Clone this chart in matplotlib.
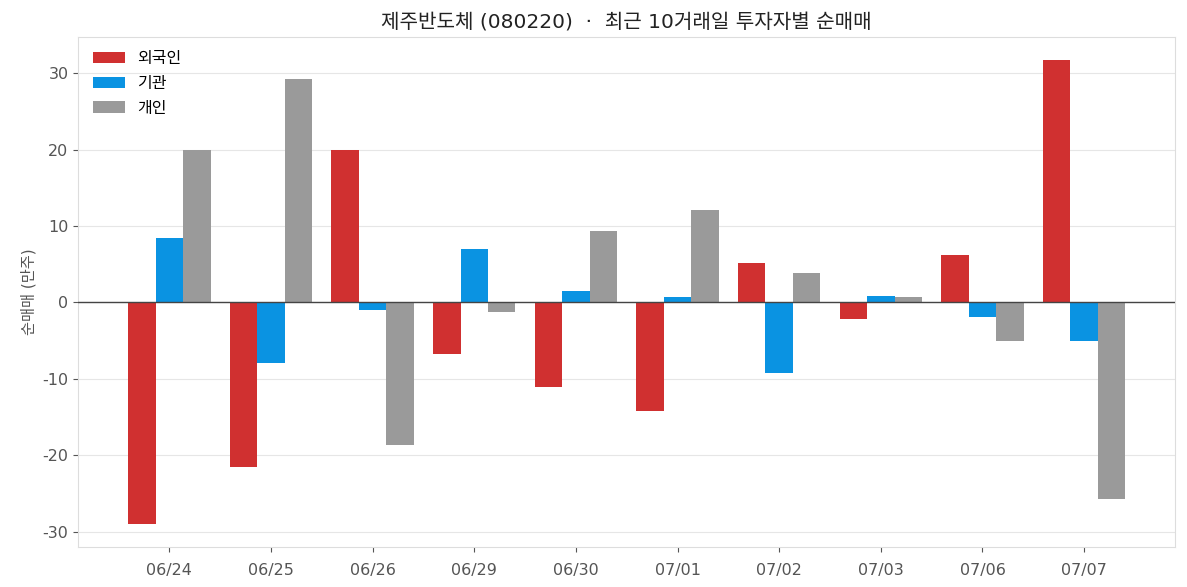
import matplotlib.pyplot as plt
import numpy as np

plt.rcParams['font.family'] = ['DejaVu Sans', 'Noto Sans CJK KR']
plt.rcParams['axes.unicode_minus'] = False

dates = ['06/24', '06/25', '06/26', '06/29', '06/30', '07/01', '07/02', '07/03', '07/06', '07/07']
foreign = [-29.0, -21.5, 19.9, -6.7, -11.1, -14.2, 5.1, -2.2, 6.2, 31.7]
institution = [8.4, -8.0, -1.0, 7.0, 1.5, 0.7, -9.3, 0.8, -1.9, -5.0]
individual = [20.0, 29.2, -18.7, -1.2, 9.3, 12.1, 3.8, 0.7, -5.0, -25.7]

x = np.arange(len(dates))
w = 0.27

fig, ax = plt.subplots(figsize=(11.87, 5.87), dpi=100)
ax.bar(x - w, foreign, width=w, color='#d03030', label='외국인', zorder=3)
ax.bar(x, institution, width=w, color='#0a93e2', label='기관', zorder=3)
ax.bar(x + w, individual, width=w, color='#9a9a9a', label='개인', zorder=3)
ax.axhline(0, color='#444444', linewidth=1, zorder=4)

ax.set_xticks(x)
ax.set_xticklabels(dates)
ax.set_yticks([-30, -20, -10, 0, 10, 20, 30])
ax.grid(axis='y', color='#e6e6e6', linewidth=0.8, zorder=0)
for s in ax.spines.values():
    s.set_color('#dddddd')
ax.tick_params(colors='#555555', labelsize=11.5)
ax.tick_params(axis='x', pad=8)
ax.set_ylabel('순매매 (만주)', color='#555555', fontsize=11)
ax.set_title('제주반도체 (080220)  ·  최근 10거래일 투자자별 순매매', fontsize=14.5, color='#222222')
ax.legend(loc='upper left', frameon=False, fontsize=11.5, labelspacing=0.6)

fig.subplots_adjust(left=0.066, right=0.99, top=0.937, bottom=0.068)
fig.savefig('out.png')
